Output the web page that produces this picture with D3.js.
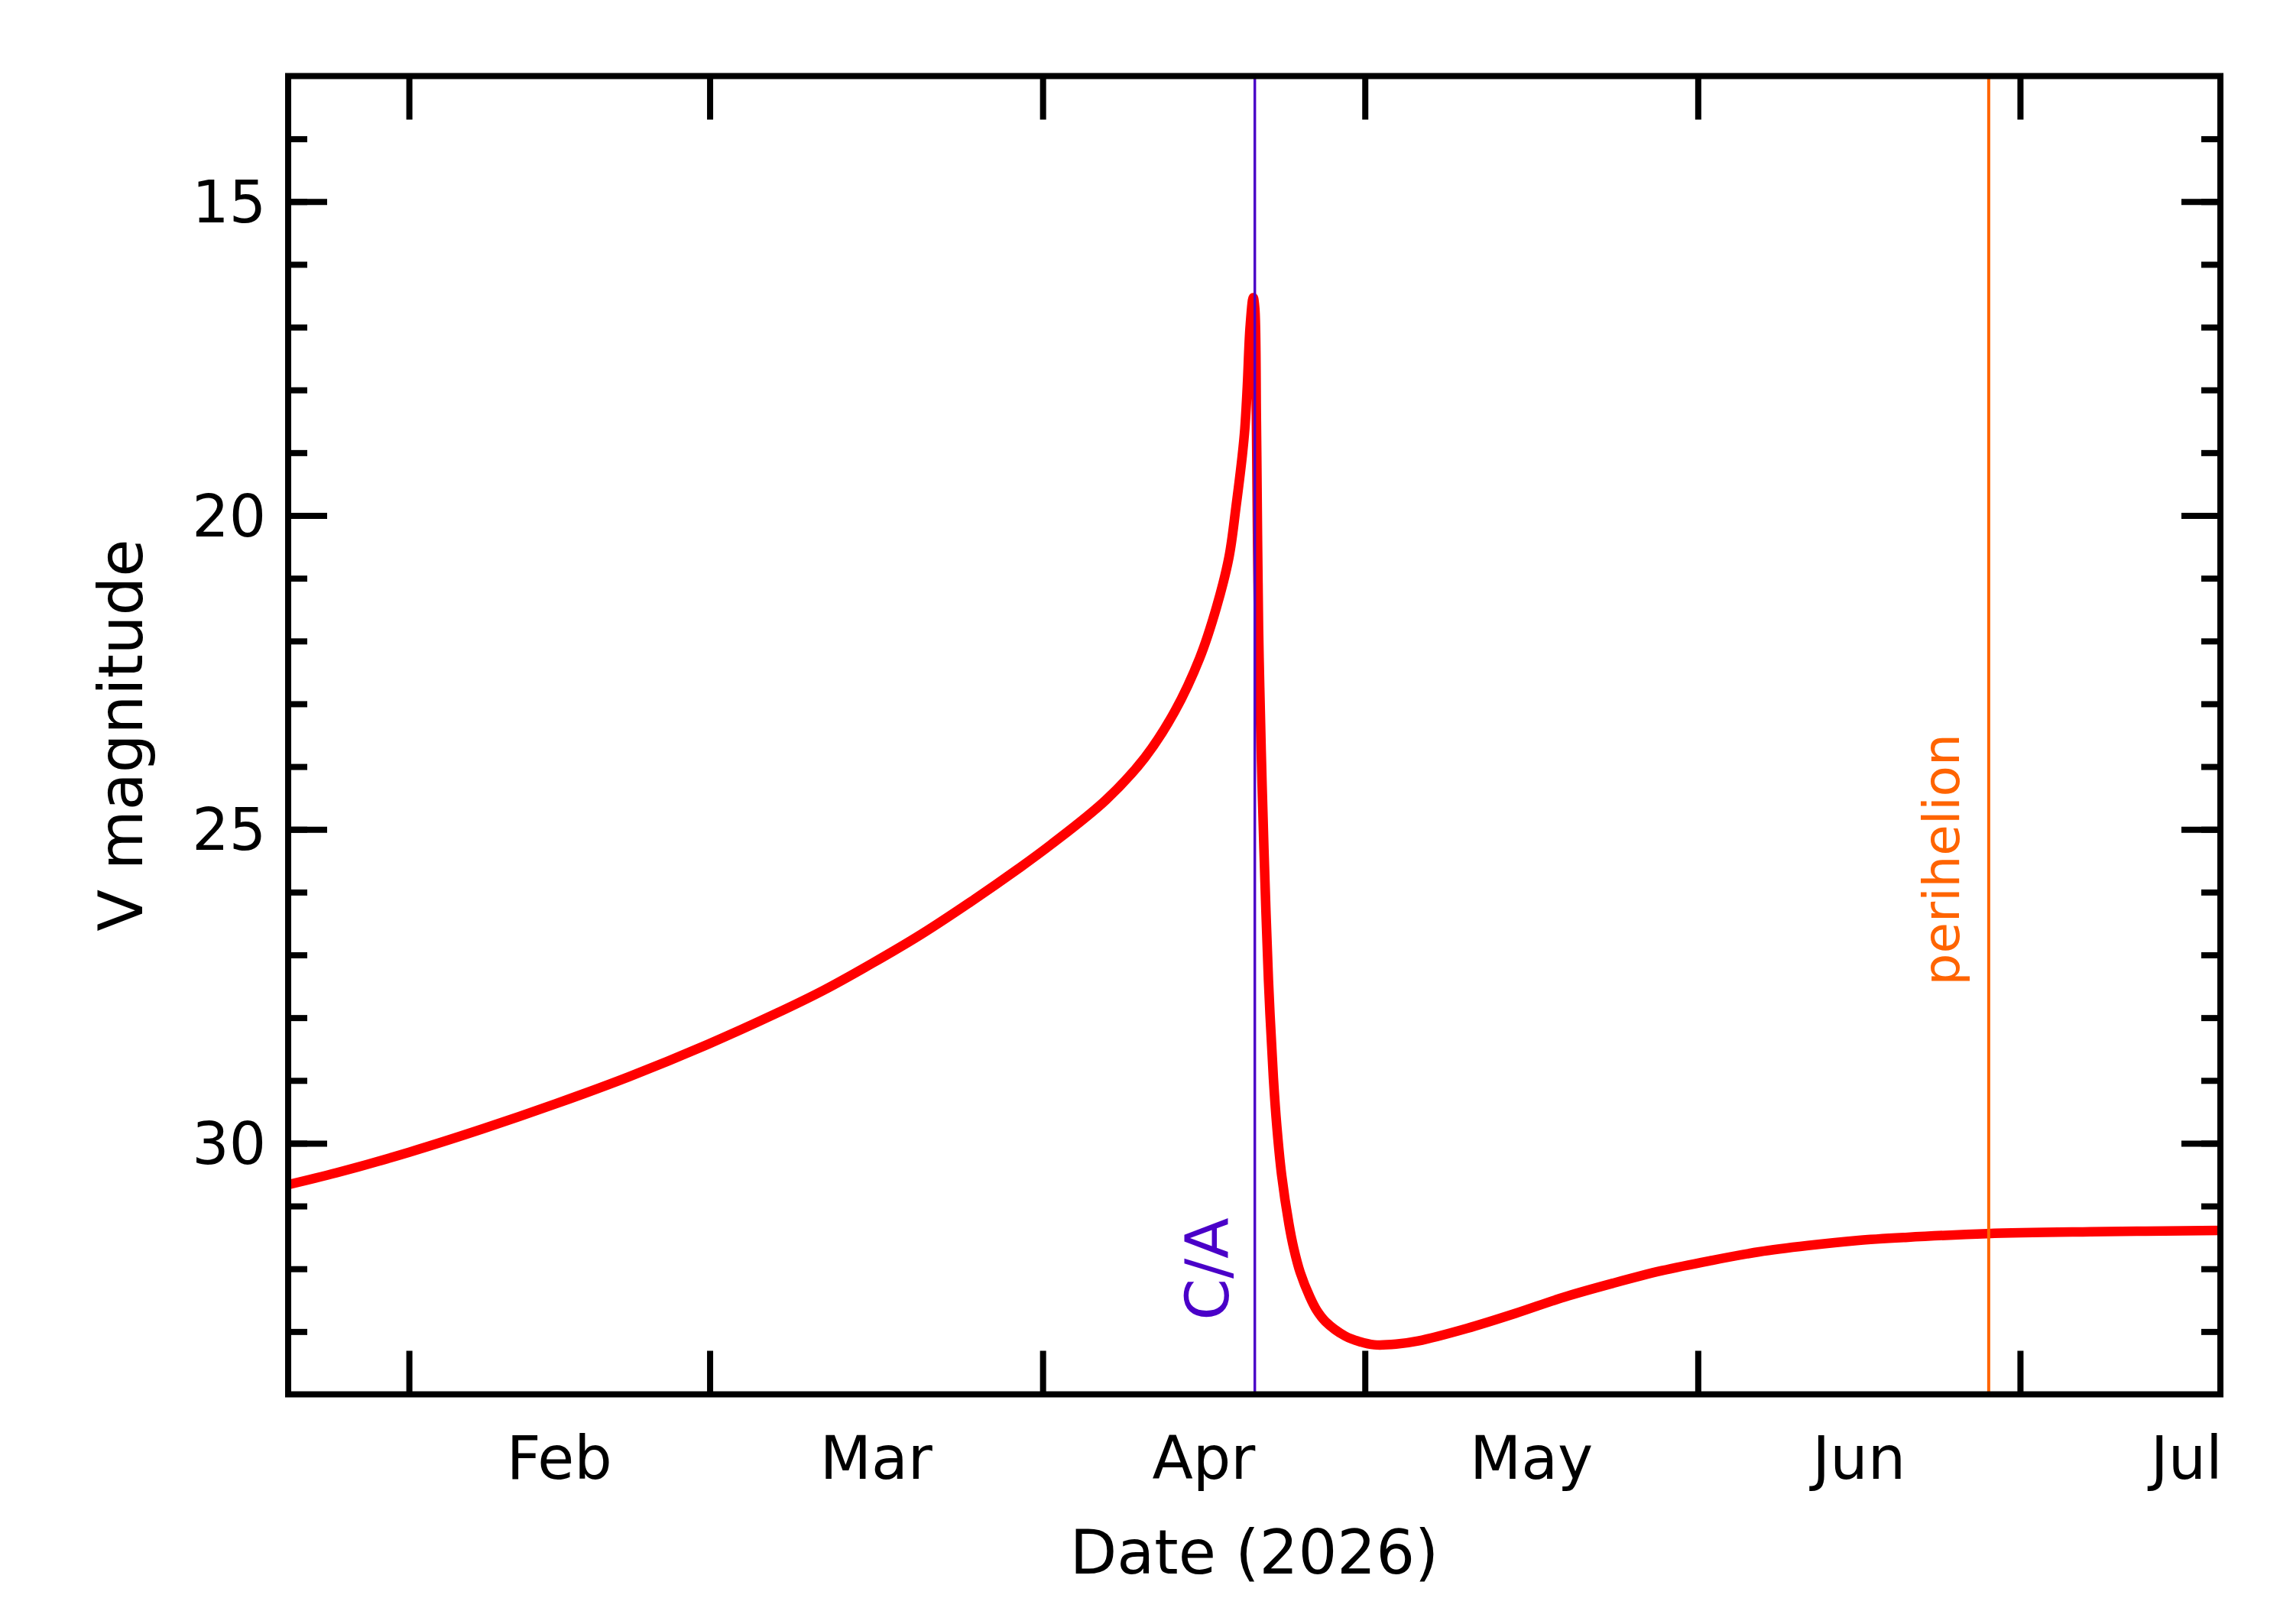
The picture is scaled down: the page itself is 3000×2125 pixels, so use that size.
<!DOCTYPE html>
<html>
<head>
<meta charset="utf-8">
<script src="https://cdn.jsdelivr.net/npm/d3@7"></script>
<style>
  html, body { margin: 0; padding: 0; background: #fff; }
  svg { display: block; font-family: "DejaVu Sans", sans-serif; }
</style>
</head>
<body>
<svg id="chart"></svg>
<script>
// day of year 2026 (Jan 1 00:00 UT = 0) and V magnitude
const days = [19.75, 24.27, 31.07, 37.88, 44.69, 51.49, 58.75, 65.10, 69.64, 74.17,
    78.71, 83.25, 87.79, 90.80, 95.90, 99.50, 102.30, 104.62, 106.17, 107.35,
    108.00, 108.58, 108.82, 109.05, 109.31, 109.60, 109.75, 109.90, 110.00, 110.10,
    110.21, 110.43, 110.70, 111.02, 111.48, 111.80, 112.25, 112.93, 113.37, 113.98,
    114.88, 115.51, 116.33, 118.15, 119.50, 120.87, 122.90, 124.95, 129.49, 134.03,
    138.56, 143.10, 147.64, 152.18, 156.71, 161.25, 165.79, 170.33, 177.94, 187.53,
    199.65];
const vmag = [30.66, 30.47, 30.14, 29.77, 29.37, 28.94, 28.43, 27.94, 27.56, 27.13,
    26.67, 26.16, 25.62, 25.24, 24.53, 23.86, 23.12, 22.27, 21.47, 20.66,
    19.86, 19.05, 18.62, 17.95, 17.00, 16.53, 16.70, 18.50, 20.30, 21.80,
    22.74, 24.30, 25.85, 27.40, 28.96, 29.73, 30.51, 31.29, 31.67, 32.06,
    32.45, 32.66, 32.84, 33.07, 33.16, 33.21, 33.20, 33.15, 32.95, 32.71,
    32.45, 32.23, 32.03, 31.87, 31.73, 31.63, 31.55, 31.50, 31.44, 31.41,
    31.39];

const dayRange = [19.75, 199.65];
const magRange = [13, 34];
const majorTicks = [15, 20, 25, 30];
const monthNames = ["Jan", "Feb", "Mar", "Apr", "May", "Jun", "Jul"];

const caDay = 109.75;       // close approach
const periDay = 178.08;     // perihelion

const W = 3000, H = 2125;
const margin = { top: 99.5, right: 95, bottom: 300.5, left: 377 };
const w = W - margin.left - margin.right,
    h = H - margin.top - margin.bottom;

const t0 = Date.UTC(2026, 0, 1);
const toDate = d => new Date(t0 + d * 864e5);

const svg = d3.select("#chart")
    .attr("width", W)
    .attr("height", H);

const g = svg.append("g")
    .attr("transform", "translate(" + margin.left + "," + margin.top + ")");

const x = d3.scaleUtc()
    .domain(dayRange.map(toDate))
    .range([0, w]);

const y = d3.scaleLinear()
    .domain(magRange)
    .range([0, h]);

const monthStarts = d3.utcMonth.range(toDate(dayRange[0]), toDate(dayRange[1]));
const monthMids = d3.utcMonth.range(d3.utcMonth.floor(toDate(dayRange[0])), toDate(dayRange[1]))
    .map(m => new Date((+m + +d3.utcMonth.offset(m, 1)) / 2))
    .filter(m => m >= x.domain()[0] && m <= x.domain()[1]);

const axisStroke = 8;

function styleTicks(sel) {
    sel.select(".domain").remove();
    sel.selectAll(".tick line")
        .attr("stroke", "#000")
        .attr("stroke-width", axisStroke);
    sel.selectAll(".tick text").remove();
}

// x ticks, bottom and top, pointing inward
g.append("g")
    .attr("transform", "translate(0," + h + ")")
    .call(d3.axisBottom(x).tickValues(monthStarts).tickSize(-57))
    .call(styleTicks);

g.append("g")
    .call(d3.axisTop(x).tickValues(monthStarts).tickSize(-57))
    .call(styleTicks);

// y ticks, left and right: minor every magnitude, major every 5
const minorTicks = d3.range(magRange[0] + 1, magRange[1]);

g.append("g")
    .call(d3.axisLeft(y).tickValues(minorTicks).tickSize(-25))
    .call(styleTicks);
g.append("g")
    .call(d3.axisLeft(y).tickValues(majorTicks).tickSize(-51))
    .call(styleTicks);
g.append("g")
    .attr("transform", "translate(" + w + ",0)")
    .call(d3.axisRight(y).tickValues(minorTicks).tickSize(-25))
    .call(styleTicks);
g.append("g")
    .attr("transform", "translate(" + w + ",0)")
    .call(d3.axisRight(y).tickValues(majorTicks).tickSize(-51))
    .call(styleTicks);

// y tick labels
g.append("g")
    .selectAll("text")
    .data(majorTicks).enter()
    .append("text")
    .attr("text-anchor", "end")
    .attr("x", -29)
    .attr("y", d => y(d) + 27)
    .attr("font-size", 76)
    .text(d => d);

// month labels centred in each month
g.append("g")
    .selectAll("text")
    .data(monthMids).enter()
    .append("text")
    .attr("text-anchor", "middle")
    .attr("x", d => x(d))
    .attr("y", h + 110)
    .attr("font-size", 78)
    .text(d => monthNames[d.getUTCMonth()]);

// the curve
const line = d3.line()
    .x((d, i) => x(toDate(days[i])))
    .y(d => y(d))
    .curve(d3.curveCatmullRom.alpha(0.5));

g.append("defs").append("clipPath")
    .attr("id", "plot-clip")
    .append("rect")
    .attr("width", w)
    .attr("height", h);

g.append("path")
    .datum(vmag)
    .attr("clip-path", "url(#plot-clip)")
    .attr("fill", "none")
    .attr("stroke", "#ff0000")
    .attr("stroke-width", 12.5)
    .attr("stroke-linejoin", "round")
    .attr("d", line);

// close approach marker
g.append("line")
    .attr("x1", x(toDate(caDay))).attr("x2", x(toDate(caDay)))
    .attr("y1", 0).attr("y2", h)
    .attr("stroke", "#4a00c8")
    .attr("stroke-width", 3.4);

g.append("text")
    .attr("transform", "translate(" + (x(toDate(caDay)) - 35) + "," + (h - 97) + ") rotate(-90)")
    .attr("fill", "#4a00c8")
    .attr("font-size", 78)
    .text("C/A");

// perihelion marker
g.append("line")
    .attr("x1", x(toDate(periDay))).attr("x2", x(toDate(periDay)))
    .attr("y1", 0).attr("y2", h)
    .attr("stroke", "#ff6400")
    .attr("stroke-width", 4);

g.append("text")
    .attr("transform", "translate(" + (x(toDate(periDay)) - 39) + "," + 1190 + ") rotate(-90)")
    .attr("fill", "#ff6400")
    .attr("font-size", 66)
    .text("perihelion");

// frame
g.append("rect")
    .attr("width", w)
    .attr("height", h)
    .attr("fill", "none")
    .attr("stroke", "#000")
    .attr("stroke-width", axisStroke);

// axis titles
g.append("text")
    .attr("text-anchor", "middle")
    .attr("x", w / 2)
    .attr("y", h + 234)
    .attr("font-size", 80)
    .text("Date (2026)");

g.append("text")
    .attr("text-anchor", "middle")
    .attr("transform", "translate(" + (186 - margin.left) + "," + (h / 2) + ") rotate(-90)")
    .attr("font-size", 80)
    .text("V magnitude");
</script>
</body>
</html>
